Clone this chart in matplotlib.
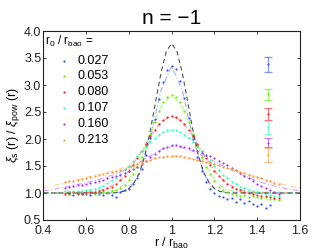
import numpy as np
import matplotlib
matplotlib.use("Agg")
import matplotlib.pyplot as plt

plt.rcParams['font.family'] = ['Liberation Sans', 'DejaVu Sans']
plt.rcParams['mathtext.fontset'] = 'custom'
plt.rcParams['mathtext.rm'] = 'Liberation Sans'
plt.rcParams['mathtext.it'] = 'Liberation Sans:italic'

nan = np.nan

title = "n = \u22121"
legend_title = r"r$_0$ / r$_{\rm bao}$ ="
labels = ["0.027", "0.053", "0.080", "0.107", "0.160", "0.213"]
colors = ["#3355ff", "#66ee00", "#ff2020", "#33ffbb", "#aa33ff", "#ff9933"]

# measured points, x = 0.50 ... 1.50 step 0.02
x_data = [round(0.50 + 0.02 * i, 2) for i in range(51)]
y_027 = [nan, 0.99, 0.96, 0.98, 1.00, 0.98, 0.97, 1.00, 0.98, 0.96, 1.00, 0.97, 0.93, 1.02, 1.05,
         1.08, 1.16, 1.27, 1.45, 1.70, 2.02, 2.37, 2.74, 3.05, 3.27, 3.35, 3.30, 3.08, 2.76, 2.38,
         2.00, 1.66, 1.40, 1.20, 1.08, 1.00, 0.95, 0.92, 0.88, 0.90, 0.84, 0.88, 0.82, 0.86, 0.80,
         0.76, 0.80, 0.72, 0.77, nan, nan]
y_053 = [1.00, 0.99, 1.01, 1.00, 0.98, 1.00, 1.01, 0.99, 1.00, 1.02, 1.01, 1.03, 1.06, 1.10, 1.15,
         1.24, 1.35, 1.49, 1.67, 1.87, 2.09, 2.31, 2.51, 2.68, 2.78, 2.82, 2.78, 2.68, 2.51, 2.31,
         2.09, 1.87, 1.67, 1.49, 1.35, 1.22, 1.12, 1.06, 1.02, 0.98, 0.97, 0.95, 0.96, 0.93, 0.94,
         0.92, 0.90, 0.92, 0.88, 0.89, 0.87]
y_080 = [0.99, 1.00, 1.01, 1.00, 0.99, 1.01, 1.02, 1.02, 1.04, 1.06, 1.09, 1.12, 1.17, 1.24, 1.31,
         1.41, 1.52, 1.64, 1.78, 1.91, 2.05, 2.17, 2.28, 2.36, 2.41, 2.43, 2.41, 2.36, 2.28, 2.17,
         2.05, 1.91, 1.78, 1.64, 1.52, 1.41, 1.31, 1.24, 1.17, 1.12, 1.08, 1.05, 1.02, 1.00, 0.98,
         0.97, 0.95, 0.94, 0.92, 0.91, 0.90]
y_107 = [1.03, 1.03, 1.03, 1.03, 1.04, 1.05, 1.06, 1.08, 1.10, 1.13, 1.18, 1.22, 1.28, 1.35, 1.42,
         1.50, 1.59, 1.68, 1.77, 1.86, 1.95, 2.02, 2.08, 2.13, 2.16, 2.17, 2.16, 2.13, 2.08, 2.02,
         1.95, 1.86, 1.77, 1.68, 1.59, 1.50, 1.42, 1.34, 1.27, 1.21, 1.16, 1.12, 1.09, 1.06, 1.04,
         1.02, 1.00, 0.98, 0.97, 0.95, 0.94]
y_160 = [1.10, 1.12, 1.13, 1.14, 1.15, 1.17, 1.18, 1.20, 1.22, 1.24, 1.27, 1.29, 1.31, 1.34, 1.37,
         1.40, 1.44, 1.48, 1.54, 1.60, 1.67, 1.73, 1.78, 1.83, 1.86, 1.88, 1.88, 1.87, 1.85, 1.83,
         1.80, 1.77, 1.74, 1.71, 1.68, 1.64, 1.60, 1.56, 1.52, 1.47, 1.42, 1.37, 1.32, 1.27, 1.22,
         1.17, 1.13, 1.09, 1.05, 1.02, 0.99]
y_213 = [1.20, 1.22, 1.23, 1.25, 1.26, 1.28, 1.30, 1.31, 1.33, 1.35, 1.37, 1.39, 1.41, 1.43, 1.45,
         1.48, 1.50, 1.53, 1.56, 1.59, 1.62, 1.64, 1.66, 1.67, 1.68, 1.69, 1.69, 1.68, 1.67, 1.65,
         1.63, 1.61, 1.59, 1.57, 1.55, 1.53, 1.51, 1.49, 1.47, 1.44, 1.42, 1.39, 1.37, 1.34, 1.32,
         1.29, 1.27, 1.24, 1.22, 1.19, 1.17]
data_series = [y_027, y_053, y_080, y_107, y_160, y_213]

# model curves, x = 0.40 ... 1.60 step 0.05
x_model = [round(0.40 + 0.05 * i, 2) for i in range(25)]
m_027 = [1.00, 1.00, 1.00, 1.00, 1.00, 1.00, 1.00, 1.01, 1.08, 1.35, 2.02, 2.90, 3.35, 2.90, 2.02,
         1.35, 1.08, 1.01, 1.00, 1.00, 1.00, 1.00, 1.00, 1.00, 1.00]
m_053 = [1.00, 1.00, 1.00, 1.00, 1.00, 1.00, 1.02, 1.07, 1.24, 1.58, 2.09, 2.60, 2.82, 2.60, 2.09,
         1.58, 1.24, 1.07, 1.02, 1.00, 1.00, 1.00, 1.00, 1.00, 1.00]
m_080 = [1.00, 1.00, 1.00, 1.00, 1.01, 1.03, 1.09, 1.20, 1.41, 1.71, 2.05, 2.32, 2.43, 2.32, 2.05,
         1.71, 1.41, 1.20, 1.09, 1.03, 1.01, 1.00, 1.00, 1.00, 1.00]
m_107 = [1.01, 1.01, 1.02, 1.02, 1.04, 1.09, 1.18, 1.31, 1.50, 1.73, 1.95, 2.11, 2.17, 2.11, 1.95,
         1.73, 1.50, 1.31, 1.18, 1.09, 1.04, 1.02, 1.02, 1.01, 1.01]
m_160 = [1.04, 1.07, 1.11, 1.15, 1.19, 1.24, 1.30, 1.37, 1.46, 1.57, 1.69, 1.80, 1.86, 1.84, 1.77,
         1.68, 1.58, 1.48, 1.39, 1.30, 1.22, 1.16, 1.11, 1.07, 1.04]
m_213 = [1.10, 1.14, 1.19, 1.24, 1.29, 1.33, 1.38, 1.44, 1.50, 1.56, 1.62, 1.66, 1.68, 1.67, 1.63,
         1.58, 1.53, 1.47, 1.41, 1.35, 1.29, 1.23, 1.18, 1.13, 1.09]
model_series = [m_027, m_053, m_080, m_107, m_160, m_213]

# linear-theory curve, x = 0.40 ... 1.60 step 0.025
x_lin = [round(0.40 + 0.025 * i, 3) for i in range(49)]
y_lin = [1.00, 1.00, 1.00, 1.00, 1.00, 1.00, 1.00, 1.00, 1.00, 1.00, 1.00, 1.00, 1.00, 1.00,
         1.01, 1.03, 1.08, 1.19, 1.38, 1.70, 2.15, 2.69, 3.22, 3.62, 3.77, 3.62, 3.22, 2.69, 2.15,
         1.70, 1.38, 1.19, 1.08, 1.03, 1.01, 1.00, 1.00, 1.00, 1.00, 1.00, 1.00, 1.00, 1.00, 1.00,
         1.00, 1.00, 1.00, 1.00, 1.00]

# error bars at r/r_bao = 1.45
err_x = 1.45
err_center = [3.38, 2.83, 2.46, 2.22, 1.93, 1.71]
err_half = [0.13, 0.10, 0.11, 0.12, 0.08, 0.13]

fig = plt.figure(figsize=(3.32, 2.5), dpi=100)
ax = fig.add_axes([0.1304, 0.12, 0.7732, 0.756])

for m, c in zip(model_series, colors):
    ax.plot(x_model, m, linestyle='-.', color=c, alpha=0.45, lw=0.8, dashes=(5, 2, 1, 2))
ax.plot(x_lin, y_lin, linestyle='--', color='#505050', lw=0.8, dashes=(4, 3))
for y, c in zip(data_series, colors):
    ax.plot(x_data, y, linestyle='none', marker='o', ms=1.6, mew=0, color=c)
for yc, h, c in zip(err_center, err_half, colors):
    ax.errorbar([err_x], [yc], yerr=[h], fmt='none', ecolor=c, alpha=0.6, elinewidth=0.9,
                capsize=3, capthick=0.9)
    ax.plot([err_x], [yc], marker='o', ms=1.5, mew=0, color=c)

ax.set_xlim(0.4, 1.6)
ax.set_ylim(0.5, 4.0)
ax.set_xticks([0.4, 0.6, 0.8, 1.0, 1.2, 1.4, 1.6])
ax.set_xticklabels(["0.4", "0.6", "0.8", "1", "1.2", "1.4", "1.6"])
ax.set_yticks([0.5, 1.0, 1.5, 2.0, 2.5, 3.0, 3.5, 4.0])
ax.set_yticklabels(["0.5", "1.0", "1.5", "2.0", "2.5", "3.0", "3.5", "4.0"])
ax.tick_params(direction='in', length=2.5, width=0.6, labelsize=9, top=True, right=True,
               colors='#222222')
ax.tick_params(axis='x', pad=3.5)
ax.tick_params(axis='y', pad=1.5)
for s in ax.spines.values():
    s.set_linewidth(0.8)
    s.set_color('#222222')

ax.set_title(title, fontsize=15, pad=5)
ax.set_xlabel(r"r / r$_{\rm bao}$", fontsize=9, labelpad=-1)
ax.set_ylabel(r"$\xi_{\rm s}$ (r) / $\xi_{\rm pow}$ (r)", fontsize=9, labelpad=1)

# legend
ax.text(0.008, 0.944, legend_title, transform=ax.transAxes, fontsize=8.5, va='center', ha='left')
rows = [0.841, 0.760, 0.677, 0.591, 0.506, 0.423]
for yy, lab, c in zip(rows, labels, colors):
    ax.plot([0.081], [yy], transform=ax.transAxes, marker='o', ms=1.6, mew=0, color=c,
            linestyle='none')
    ax.text(0.132, yy, lab, transform=ax.transAxes, fontsize=9, va='center', ha='left')

fig.savefig("out.png", dpi=100)
